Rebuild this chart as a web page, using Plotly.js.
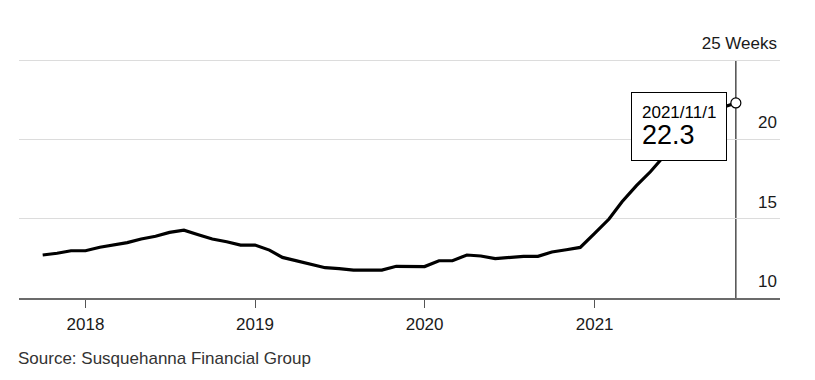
<!DOCTYPE html>
<html>
<head>
<meta charset="utf-8">
<script src="https://cdn.plot.ly/plotly-3.0.1.min.js"></script>
<style>
  html, body { margin: 0; padding: 0; background: #fff; }
  #chart { width: 815px; height: 380px; }
</style>
</head>
<body>
<div id="chart"></div>
<script>
const dates = [
  "2017-10-01","2017-11-01","2017-12-01",
  "2018-01-01","2018-02-01","2018-03-01","2018-04-01","2018-05-01","2018-06-01",
  "2018-07-01","2018-08-01","2018-09-01","2018-10-01","2018-11-01","2018-12-01",
  "2019-01-01","2019-02-01","2019-03-01","2019-04-01","2019-05-01","2019-06-01",
  "2019-07-01","2019-08-01","2019-09-01","2019-10-01","2019-11-01","2019-12-01",
  "2020-01-01","2020-02-01","2020-03-01","2020-04-01","2020-05-01","2020-06-01",
  "2020-07-01","2020-08-01","2020-09-01","2020-10-01","2020-11-01","2020-12-01",
  "2021-01-01","2021-02-01","2021-03-01","2021-04-01","2021-05-01","2021-06-01",
  "2021-07-01","2021-08-01","2021-09-01","2021-10-01","2021-11-01"
];
const weeks = [
  12.71, 12.82, 12.98,
  12.98, 13.20, 13.32, 13.49, 13.72, 13.89,
  14.14, 14.28, 13.99, 13.72, 13.55, 13.34,
  13.34, 13.02, 12.56, 12.35, 12.12, 11.91,
  11.85, 11.76, 11.76, 11.76, 12.00, 12.00,
  11.98, 12.35, 12.35, 12.71, 12.65, 12.48,
  12.54, 12.63, 12.63, 12.90, 13.04, 13.19,
  14.08, 14.98, 16.07, 17.08, 17.96, 19.00,
  19.90, 20.70, 21.40, 22.00, 22.30
];
const yTickVals = [10, 15, 20, 25];
const yTickText = ["10", "15", "20", "25 Weeks"];
const xTickVals = ["2018-01-01", "2019-01-01", "2020-01-01", "2021-01-01"];
const xTickText = ["2018", "2019", "2020", "2021"];
const calloutDate = "2021/11/1";
const sourceText = "Source: Susquehanna Financial Group";

const lastX = dates[dates.length - 1];
const lastY = weeks[weeks.length - 1];
const FONT = "Liberation Sans, Arial, Helvetica, sans-serif";

const traces = [
  {
    x: dates, y: weeks, type: "scatter", mode: "lines",
    line: { color: "#000000", width: 3.2, shape: "linear" },
    hoverinfo: "skip"
  },
  {
    x: [lastX], y: [lastY], type: "scatter", mode: "markers",
    marker: { size: 10, color: "#ffffff", line: { color: "#000000", width: 1.2 } },
    hoverinfo: "skip", cliponaxis: false
  }
];

const layout = {
  width: 815, height: 380,
  margin: { l: 19, r: 35, t: 59, b: 82 },
  paper_bgcolor: "#ffffff", plot_bgcolor: "#ffffff",
  showlegend: false,
  font: { family: FONT, color: "#1a1a1a" },
  xaxis: {
    type: "date",
    range: ["2017-08-11", "2022-02-04"],
    tickmode: "array", tickvals: xTickVals, ticktext: xTickText,
    ticks: "outside", ticklen: 8, tickwidth: 1, tickcolor: "#555555",
    showline: true, linecolor: "#6b6b6b", linewidth: 2,
    showgrid: false, zeroline: false,
    tickfont: { size: 17, family: FONT, color: "#1a1a1a" },
    ticklabelstandoff: 2,
    fixedrange: true
  },
  yaxis: {
    range: [10, 25.07],
    side: "right",
    tickmode: "array", tickvals: yTickVals, ticktext: yTickText,
    ticks: "", showline: false, zeroline: false,
    showgrid: true, gridcolor: "#dcdcdc", gridwidth: 1,
    ticklabelposition: "inside",
    ticklabeloverflow: "allow",
    ticklabelshift: -17,
    ticklabelstandoff: 0,
    tickfont: { size: 17, family: FONT, color: "#1a1a1a" },
    fixedrange: true
  },
  shapes: [
    {
      type: "line", xref: "x", yref: "y",
      x0: lastX, x1: lastX, y0: yTickVals[0], y1: yTickVals[yTickVals.length - 1],
      line: { color: "#222222", width: 1.2 },
      layer: "below"
    }
  ],
  annotations: [
    {
      xref: "x", yref: "y", x: lastX, y: lastY,
      xanchor: "right", yanchor: "top",
      xshift: -9, yshift: 11,
      showarrow: false, align: "left",
      text: "<span style='font-size:17px'>" + calloutDate + "</span><br><span style='font-size:27px'>" + lastY.toFixed(1) + "</span>",
      font: { size: 20, family: FONT, color: "#000000" },
      bgcolor: "#ffffff", bordercolor: "#000000", borderwidth: 1, borderpad: 10
    },
    {
      xref: "paper", yref: "paper", x: 0, y: 0,
      xanchor: "left", yanchor: "middle",
      xshift: -3, yshift: -60,
      showarrow: false, align: "left",
      text: sourceText,
      font: { size: 17, family: FONT, color: "#333333" }
    }
  ]
};

Plotly.newPlot("chart", traces, layout, { staticPlot: true, displayModeBar: false });
</script>
</body>
</html>
